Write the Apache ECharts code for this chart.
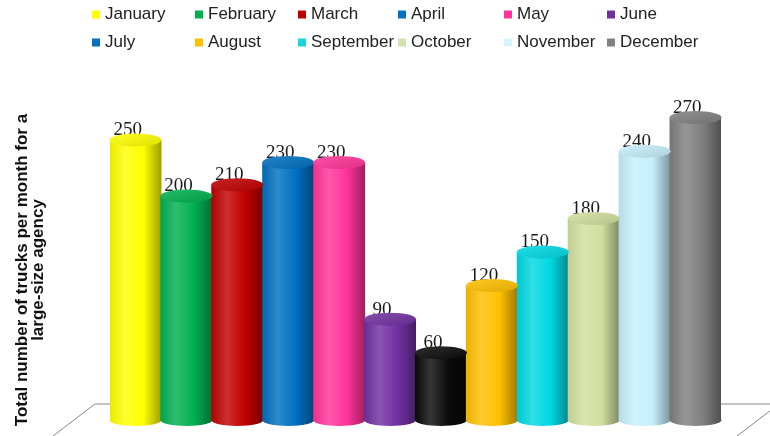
<!DOCTYPE html>
<html>
<head>
<meta charset="utf-8">
<script src="https://cdn.jsdelivr.net/npm/echarts@6/dist/echarts.min.js"></script>
<style>
html,body{margin:0;padding:0;background:#fff;}
#chart{width:770px;height:436px;}
</style>
</head>
<body>
<div id="chart"></div>
<script>
// ---- data ----
var months = ['January','February','March','April','May','June','July','August','September','October','November','December'];
var values = [250, 200, 210, 230, 230, 90, 60, 120, 150, 180, 240, 270];
var barColors = ['#FFFF00','#00B050','#C00000','#0070C0','#FF3399','#7030A0','#0A0A0A','#FFC000','#00D8E2','#D0DF9E','#C6EFFC','#7F7F7F'];
var legendColors = ['#FFFF00','#00B050','#C00000','#0070C0','#FF3399','#7030A0','#0070C0','#FFC000','#17D4DE','#D3E2B0','#D6F4FC','#808080'];
var yTitle = 'Total number of trucks per month for a\nlarge-size agency';

// ---- styling helpers ----
function hexToRgb(h){h=h.replace('#','');return [parseInt(h.substr(0,2),16),parseInt(h.substr(2,2),16),parseInt(h.substr(4,2),16)];}
function shade(h,p){var c=hexToRgb(h);return 'rgb('+c.map(function(v){var r=p<0?v*(1+p):v+(255-v)*p;return Math.max(0,Math.min(255,Math.round(r)));}).join(',')+')';}
function bodyGrad(c){
  return new echarts.graphic.LinearGradient(0,0,1,0,[
    {offset:0,color:shade(c,-0.08)},
    {offset:0.3,color:shade(c,0.18)},
    {offset:0.65,color:shade(c,0)},
    {offset:1,color:shade(c,-0.38)}
  ]);
}
function capGrad(c){
  return new echarts.graphic.LinearGradient(0,0,1,1,[
    {offset:0,color:shade(c,0.15)},
    {offset:1,color:shade(c,-0.12)}
  ]);
}

var series = [];
months.forEach(function(m,i){
  var d = values.map(function(v,j){ return j===i ? v : '-'; });
  series.push({
    name:m, type:'bar', stack:'all', barWidth:52, z:2,
    data:d,
    itemStyle:{color:bodyGrad(barColors[i])},
    label:{show:true, position:'top', distance:0, offset:[-8,0],
      fontFamily:'Liberation Serif', fontSize:19, color:'#1a1a1a'}
  });
});
series.push({
  name:'topcap', type:'pictorialBar', symbol:'circle', symbolSize:[52,13],
  symbolPosition:'end', symbolOffset:[0,'-50%'], barGap:'-100%', z:4,
  data: values.map(function(v,i){return {value:v, itemStyle:{color:capGrad(barColors[i])}};})
});
series.push({
  name:'bottomcap', type:'pictorialBar', symbol:'circle', symbolSize:[52,12],
  symbolPosition:'start', symbolOffset:[0,'50%'], barGap:'-100%', z:1,
  data: values.map(function(v,i){return {value:v, itemStyle:{color:bodyGrad(barColors[i])}};})
});

var colX = [92,195,298,398,504,607];
var rowY = [6,34];
var legends = months.map(function(m,i){
  return {
    data:[{name:m, itemStyle:{color:legendColors[i]}}],
    left: (i===9?398:colX[i%6]), top: rowY[Math.floor(i/6)],
    padding:0, icon:'rect', itemWidth:8, itemHeight:8,
    textStyle:{fontFamily:'Liberation Sans', fontSize:17, color:'#222'},
    selectedMode:false
  };
});

var chart = echarts.init(document.getElementById('chart'));
chart.setOption({
  animation:false,
  backgroundColor:'#fff',
  legend: legends,
  grid:{left:110, right:49, top:84, bottom:16},
  xAxis:{type:'category', data:months, show:false},
  yAxis:{type:'value', min:0, max:300, show:false},
  graphic:[
    {type:'polyline', z:-1, shape:{points:[[53,436],[95,404],[780,404]]}, style:{stroke:'#888', lineWidth:1, fill:null}},
    {type:'line', z:-1, shape:{x1:779,y1:404,x2:737,y2:436}, style:{stroke:'#888', lineWidth:1}},
    {type:'text', x:30, y:270, rotation:Math.PI/2,
      style:{text:yTitle, font:'bold 17px "Liberation Sans"', fill:'#111', align:'center', verticalAlign:'middle', lineHeight:16}}
  ],
  series: series
});
</script>
</body>
</html>
